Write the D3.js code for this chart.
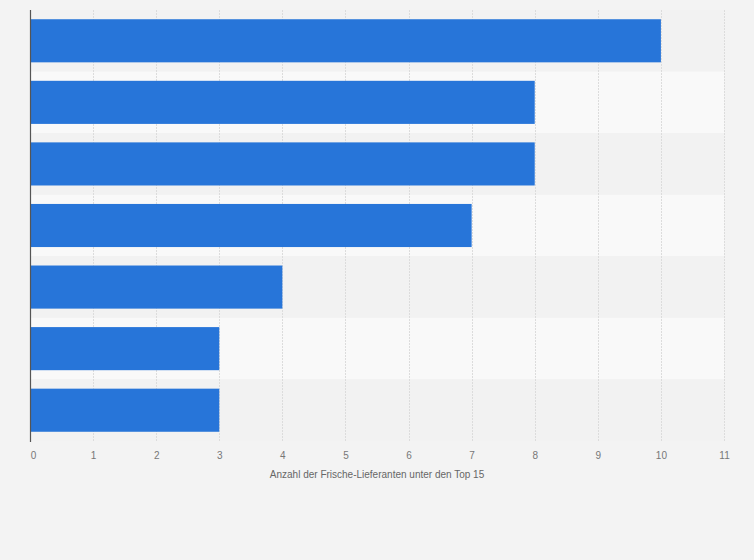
<!DOCTYPE html>
<html><head><meta charset="utf-8">
<script src="https://cdn.jsdelivr.net/npm/d3@7"></script>
<style>
html,body{margin:0;padding:0;background:#f3f3f3;}
svg{display:block;font-family:"Liberation Sans",Arial,sans-serif;}
</style></head>
<body>
<svg id="chart" width="754" height="560"></svg>
<script>
const categories = ["A","B","C","D","E","F","G"];
const values = [10, 8, 8, 7, 4, 3, 3];
const xTicks = [0,1,2,3,4,5,6,7,8,9,10,11];
const axisTitle = "Anzahl der Frische-Lieferanten unter den Top 15";

const svg = d3.select("#chart");
const margin = {left: 30, right: 30, top: 10, bottom: 119};
const W = 754, H = 560;
const x = d3.scaleLinear().domain([0, 11]).range([margin.left, W - margin.right]);
const y = d3.scaleBand().domain(categories).range([margin.top, H - margin.bottom]).paddingInner(0.3).paddingOuter(0.15);
const band = d3.scaleBand().domain(categories).range([margin.top, H - margin.bottom]);

svg.append("g").selectAll("rect").data(categories).join("rect")
  .attr("x", x(0)).attr("width", x(11) - x(0))
  .attr("y", d => band(d)).attr("height", band.bandwidth())
  .attr("fill", (d, i) => i % 2 ? "#f9f9f9" : "#f2f2f2");

svg.append("g").selectAll("line").data(xTicks.slice(1)).join("line")
  .attr("x1", d => Math.round(x(d)) + 0.5).attr("x2", d => Math.round(x(d)) + 0.5)
  .attr("y1", margin.top).attr("y2", H - margin.bottom + 1)
  .attr("stroke", "#dcdcdc").attr("stroke-width", 1).attr("stroke-dasharray", "2,1");

svg.append("g").selectAll("rect").data(values).join("rect")
  .attr("x", x(0)).attr("y", (d, i) => y(categories[i]))
  .attr("width", d => x(d) - x(0)).attr("height", y.bandwidth())
  .attr("fill", "#2775d9");

svg.append("line").attr("x1", x(0) + 0.5).attr("x2", x(0) + 0.5)
  .attr("y1", margin.top).attr("y2", H - margin.bottom + 1)
  .attr("stroke", "#555").attr("stroke-width", 1.2);

const ax = d3.axisBottom(x).tickValues(xTicks).tickSize(0).tickPadding(0).tickFormat(d3.format("d"));
const g = svg.append("g").attr("transform", `translate(0,${H - margin.bottom + 11})`).call(ax);
g.select(".domain").remove();
g.selectAll("text").attr("fill", "#777").attr("font-size", 10)
  .attr("font-family", "'Liberation Sans',Arial,sans-serif")
  .attr("dx", (d) => d === 0 ? 3 : 0);

svg.append("text").attr("x", (x(0) + x(11)) / 2).attr("y", 478)
  .attr("text-anchor", "middle").attr("fill", "#666").attr("font-size", 10)
  .text(axisTitle);
</script>
</body></html>
